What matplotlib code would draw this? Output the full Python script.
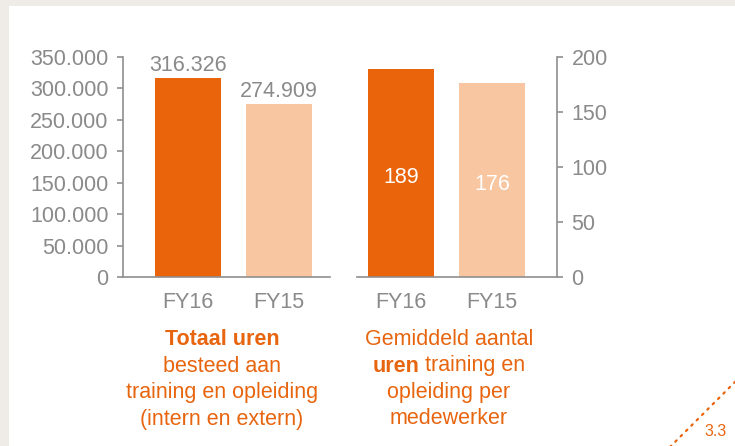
import matplotlib
matplotlib.use('Agg')
import matplotlib.pyplot as plt
from matplotlib.lines import Line2D
from matplotlib.patches import Rectangle

W, H = 735, 446

# ---- data ----
categories = ['FY16', 'FY15']
total_hours = [316326, 274909]
total_labels = ['316.326', '274.909']
avg_hours = [189, 176]
avg_labels = ['189', '176']
left_ticks = [0, 50000, 100000, 150000, 200000, 250000, 300000, 350000]
left_tick_labels = ['0', '50.000', '100.000', '150.000', '200.000', '250.000', '300.000', '350.000']
right_ticks = [0, 50, 100, 150, 200]
right_tick_labels = ['0', '50', '100', '150', '200']
caption_left = [[('Totaal uren', 'bold')], [('besteed aan', 'normal')],
                [('training en opleiding', 'normal')], [('(intern en extern)', 'normal')]]
caption_right = [[('Gemiddeld aantal', 'normal')], [('uren', 'bold'), ('training en', 'normal')],
                 [('opleiding per', 'normal')], [('medewerker', 'normal')]]
page_number = '3.3'

# ---- style ----
DARK = '#E9640A'
LIGHT = '#F8C6A0'
GRAY_TXT = '#8A8A8A'
GRAY_LINE = '#8F8F8F'
ORANGE_TXT = '#E8650F'
BG = '#EFEBE7'
FS = 15.5

plt.rcParams['font.family'] = ['Liberation Sans', 'DejaVu Sans']

fig = plt.figure(figsize=(W / 100, H / 100), dpi=100)
fig.patch.set_facecolor(BG)
fig.add_artist(Rectangle((9 / W, 0), 1 - 9 / W, 1 - 6 / H, transform=fig.transFigure,
                         facecolor='white', edgecolor='none', zorder=0))


def add_ax(l, r, t, b):
    return fig.add_axes([l / W, 1 - b / H, (r - l) / W, (b - t) / H])


def fx(x):
    return x / W


def fy(y):
    return 1 - y / H


def style_axis(ax, side):
    ax.set_facecolor('none')
    for s in ['top', 'left', 'right', 'bottom']:
        ax.spines[s].set_visible(False)
    ax.spines['bottom'].set_visible(True)
    ax.spines[side].set_visible(True)
    for s in ['bottom', side]:
        ax.spines[s].set_color(GRAY_LINE)
        ax.spines[s].set_linewidth(1.2)
    ax.tick_params(axis='y', length=4.5, width=1.2, color=GRAY_LINE, labelcolor=GRAY_TXT,
                   labelsize=FS, pad=6)
    ax.tick_params(axis='x', length=0, labelcolor=GRAY_TXT, labelsize=FS, pad=11)
    if side == 'right':
        ax.yaxis.tick_right()


colors = [DARK, LIGHT]
xpos = list(range(len(categories)))

# left chart
axL = add_ax(123, 330, 57, 277)
axL.bar(xpos, total_hours, width=0.725, color=colors)
axL.set_xlim(-0.714, 1.56)
axL.set_ylim(0, 350000)
axL.set_yticks(left_ticks)
axL.set_yticklabels(left_tick_labels)
axL.set_xticks(xpos)
axL.set_xticklabels(categories)
style_axis(axL, 'left')
for x, v, lab in zip(xpos, total_hours, total_labels):
    axL.annotate(lab, (x, v), xytext=(0, 5), textcoords='offset points', ha='center',
                 va='baseline', color=GRAY_TXT, fontsize=FS)

# right chart
axR = add_ax(357, 557, 57, 277)
axR.bar(xpos, avg_hours, width=0.725, color=colors)
axR.set_xlim(-0.484, 1.714)
axR.set_ylim(0, 200)
axR.set_yticks(right_ticks)
axR.set_yticklabels(right_tick_labels)
axR.set_xticks(xpos)
axR.set_xticklabels(categories)
style_axis(axR, 'right')
for x, v, lab in zip(xpos, avg_hours, avg_labels):
    axR.text(x, v * 0.45, lab, ha='center', va='baseline', color='white', fontsize=FS)

# captions
fig.canvas.draw()
renderer = fig.canvas.get_renderer()


def draw_caption(lines, cx, baselines):
    for parts, by in zip(lines, baselines):
        texts = []
        widths = []
        for s, w in parts:
            t = fig.text(0, fy(by), s, fontsize=FS, fontweight=w, color=ORANGE_TXT,
                         ha='left', va='baseline')
            texts.append(t)
            widths.append(t.get_window_extent(renderer).width)
        space = FS * 100 / 72 * 0.278
        total = sum(widths) + space * (len(parts) - 1)
        x = cx - total / 2
        for t, wd in zip(texts, widths):
            t.set_x(fx(x))
            x += wd + space


baselines = [345, 371.5, 398, 424.5]
draw_caption(caption_left, 222, baselines)
draw_caption(caption_right, 449, baselines)

# corner decoration
fig.add_artist(Line2D([fx(670), fx(736)], [fy(447), fy(381)], transform=fig.transFigure,
                      color=DARK, lw=1.6, linestyle=(0, (0.8, 2.6)), dash_capstyle='round'))
fig.text(fx(716), fy(436), page_number, fontsize=11.5, color=ORANGE_TXT, ha='center', va='baseline')

fig.savefig('out.png', dpi=100, facecolor=fig.get_facecolor())
